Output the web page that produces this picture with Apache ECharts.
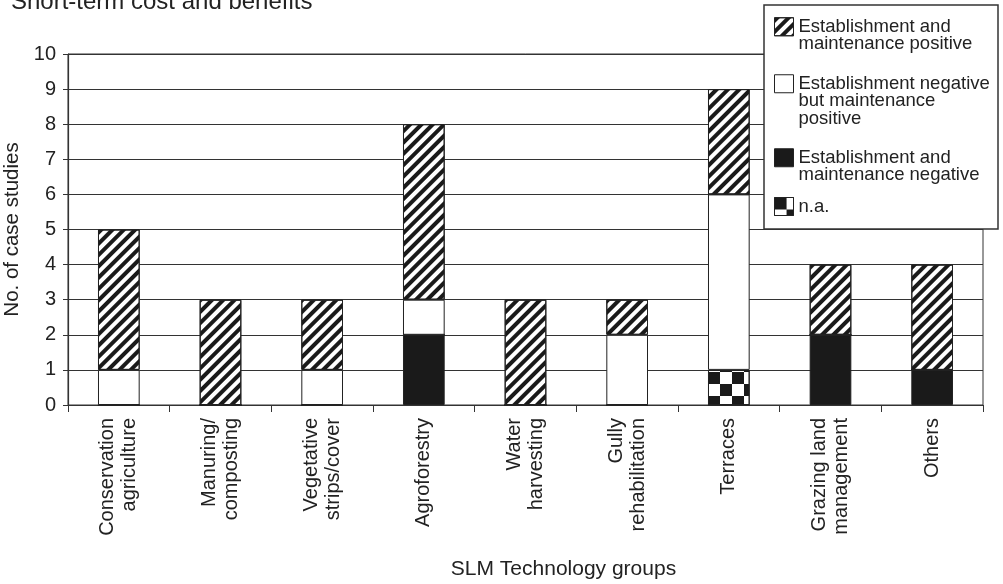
<!DOCTYPE html>
<html>
<head>
<meta charset="utf-8">
<script src="https://cdn.jsdelivr.net/npm/echarts@6/dist/echarts.min.js"></script>
<style>
html,body{margin:0;padding:0;background:#fff;}
#chart{width:1003px;height:584px;}
</style>
</head>
<body>
<div id="chart"></div>
<script>
var categories = ['Conservation\nagriculture', 'Manuring/\ncomposting', 'Vegetative\nstrips/cover', 'Agroforestry', 'Water\nharvesting', 'Gully\nrehabilitation', 'Terraces', 'Grazing land\nmanagement', 'Others'];
var bothNegative = [0, 0, 0, 2, 0, 0, 0, 2, 1];
var notAvailable = [0, 0, 0, 0, 0, 0, 1, 0, 0];
var estNegMaintPos = [1, 0, 1, 1, 0, 2, 5, 0, 0];
var bothPositive = [4, 3, 2, 5, 3, 1, 3, 2, 3];
var yTicks = [0, 1, 2, 3, 4, 5, 6, 7, 8, 9, 10];

var NAME_POS = 'Establishment and\nmaintenance positive';
var NAME_MIX = 'Establishment negative\nbut maintenance\npositive';
var NAME_NEG = 'Establishment and\nmaintenance negative';
var NAME_NA = 'n.a.';

var FONT = '"Liberation Sans", Arial, Helvetica, sans-serif';
var INK = '#222';
var LH = 17.5;

var hatch = { symbol: 'rect', symbolSize: 1, color: '#1a1a1a', dashArrayX: [1, 0], dashArrayY: [3.6, 3.6], rotation: -Math.PI / 4 };
var checker = { symbol: 'rect', symbolSize: 1, color: '#1a1a1a', dashArrayX: [[0, 11.5, 11.5, 0], [11.5, 11.5]], dashArrayY: [11.5, 0], rotation: 0 };

function bar(name, data, color, decal) {
  var s = {
    name: name, type: 'bar', stack: 'total', data: data, barWidth: '41%',
    itemStyle: { color: color, borderColor: INK, borderWidth: 1 },
    emphasis: { disabled: true },
    z: 2
  };
  if (decal) s.itemStyle.decal = decal;
  return s;
}

// icon aligned with the first text line: pad the text with leading blank lines
function legendItem(name, top) {
  var n = name.split('\n').length;
  return {
    orient: 'vertical', left: 774, top: top, padding: 0, z: 6,
    itemWidth: 19, itemHeight: 18, itemGap: 0, icon: 'rect',
    selectedMode: false,
    itemStyle: { borderColor: INK, borderWidth: 1 },
    textStyle: { fontFamily: FONT, fontSize: 18.5, color: INK, lineHeight: LH },
    formatter: function (nm) {
      var pre = '';
      for (var i = 1; i < n; i++) pre += ' \n';
      return pre + nm;
    },
    data: [{ name: name }]
  };
}

var chart = echarts.init(document.getElementById('chart'), null, { renderer: 'canvas' });
chart.setOption({
  animation: false,
  backgroundColor: '#fff',
  title: {
    text: 'Short-term cost and benefits', left: 11, top: -10, padding: 0,
    textStyle: { fontFamily: FONT, fontSize: 24, fontWeight: 'normal', color: INK }
  },
  grid: { left: 68, right: 20, top: 54, bottom: 179, show: true, borderColor: '#333', borderWidth: 1, backgroundColor: 'transparent', containLabel: false, outerBoundsMode: 'none' },
  graphic: [{
    type: 'rect', z: 4,
    shape: { x: 764, y: 5, width: 234, height: 224 },
    style: { fill: '#fff', stroke: '#333', lineWidth: 1.5 }
  }],
  legend: [
    legendItem(NAME_POS, 26 - 1.5 * LH),
    legendItem(NAME_MIX, 83 - 2.5 * LH),
    legendItem(NAME_NEG, 157 - 1.5 * LH),
    legendItem(NAME_NA, 197)
  ],
  xAxis: {
    type: 'category', data: categories,
    name: 'SLM Technology groups', nameLocation: 'middle', nameGap: 154,
    nameTextStyle: { fontFamily: FONT, fontSize: 21, color: INK, padding: [0, 0, 0, 76] },
    axisLine: { lineStyle: { color: '#333', width: 1.2 } },
    axisTick: { show: true, length: 7, interval: 0, lineStyle: { color: '#333' } },
    axisLabel: { interval: 0, rotate: 90, margin: 13, fontFamily: FONT, fontSize: 20, lineHeight: 22, color: INK }
  },
  yAxis: {
    type: 'value', min: 0, max: 10, interval: 1,
    name: 'No. of case studies', nameLocation: 'middle', nameGap: 36,
    nameTextStyle: { fontFamily: FONT, fontSize: 20.5, color: INK },
    axisLine: { show: true, lineStyle: { color: '#333', width: 1.2 } },
    axisTick: { show: true, length: 5, lineStyle: { color: '#333' } },
    axisLabel: { margin: 12, fontFamily: FONT, fontSize: 20, color: INK,
      formatter: function (v) { return yTicks.indexOf(v) >= 0 ? String(v) : ''; } },
    splitLine: { show: true, lineStyle: { color: '#333', width: 1.2 } }
  },
  series: [
    bar(NAME_NEG, bothNegative, '#1a1a1a', null),
    bar(NAME_NA, notAvailable, '#ffffff', checker),
    bar(NAME_MIX, estNegMaintPos, '#ffffff', null),
    bar(NAME_POS, bothPositive, '#ffffff', hatch)
  ]
});
</script>
</body>
</html>
